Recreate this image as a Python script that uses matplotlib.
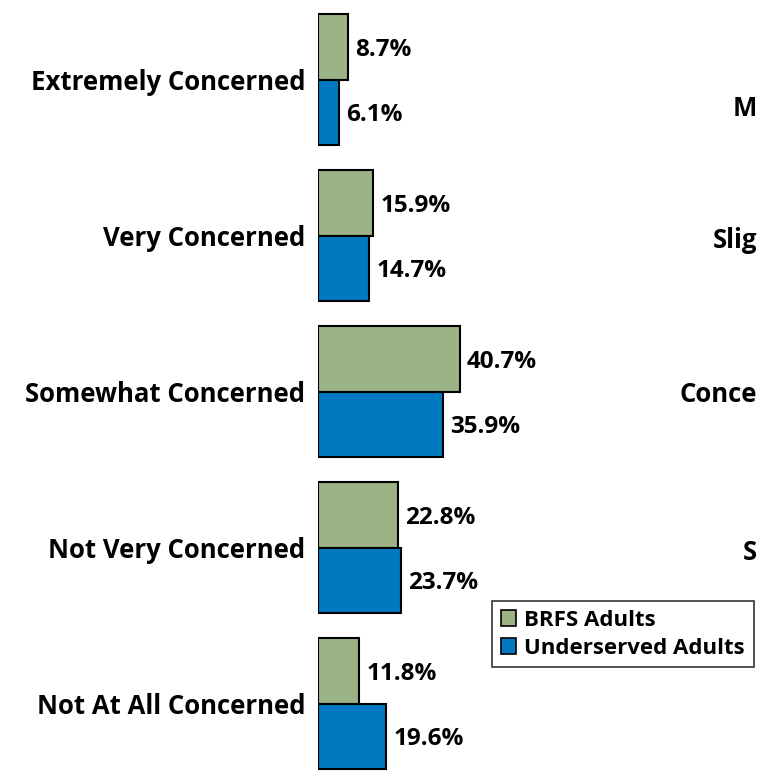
import matplotlib
matplotlib.use("Agg")
import matplotlib.pyplot as plt
from matplotlib.patches import Patch
import numpy as np

categories = ["Extremely Concerned", "Very Concerned", "Somewhat Concerned",
              "Not Very Concerned", "Not At All Concerned"]
brfs = [8.7, 15.9, 40.7, 22.8, 11.8]
underserved = [6.1, 14.7, 35.9, 23.7, 19.6]
series_names = ["BRFS Adults", "Underserved Adults"]
cut_labels = ["M", "Slig", "Conce", "S"]

green = "#9BB385"
blue = "#0079C1"
FONT = "Open Sans"

W, H = 759, 778
fig = plt.figure(figsize=(W / 100, H / 100), dpi=100)
ax_left = 318 / W
ax = fig.add_axes([ax_left, 0, 1 - ax_left, 1])
px_per_unit = 3.49
ax.set_xlim(0, (W - 318) / px_per_unit)
ax.set_ylim((H - 79.5) / 156, -79.5 / 156)
ax.axis("off")

y = np.arange(len(categories))
h = 0.42
ax.barh(y - h / 2, brfs, height=h, color=green, edgecolor="black", linewidth=1.5)
ax.barh(y + h / 2, underserved, height=h, color=blue, edgecolor="black", linewidth=1.5)

fs_cat = 18.5
fs_val = 17.5
dy = 0.018
for i in range(len(categories)):
    ax.text(brfs[i] + 2.0, y[i] - h / 2 + dy, f"{brfs[i]:.1f}%", va="center", ha="left",
            fontsize=fs_val, fontweight="bold", family=FONT)
    ax.text(underserved[i] + 2.0, y[i] + h / 2 + dy, f"{underserved[i]:.1f}%", va="center", ha="left",
            fontsize=fs_val, fontweight="bold", family=FONT)
    ax.text(-3.6, y[i] + dy, categories[i], va="center", ha="right", fontsize=fs_cat,
            fontweight="bold", family=FONT, clip_on=False)

# partially visible labels of a neighbouring chart at the right edge
cut_y = [108, 240, 395, 552]
for t, yy in zip(cut_labels, cut_y):
    fig.text(757 / W, 1 - yy / H, t, ha="right", va="center", fontsize=fs_cat,
             fontweight="bold", family=FONT)

handles = [Patch(facecolor=green, edgecolor="black", linewidth=1.2),
           Patch(facecolor=blue, edgecolor="black", linewidth=1.2)]
leg = fig.legend(handles, series_names, loc="upper left",
                 bbox_to_anchor=(492 / W, 1 - 601 / H),
                 prop={"family": FONT, "weight": "bold", "size": 16},
                 frameon=True, fancybox=False, edgecolor="black",
                 handlelength=0.7, handleheight=0.7, handletextpad=0.35,
                 borderpad=0.4, labelspacing=0.3, borderaxespad=0)
leg.get_frame().set_linewidth(1.2)

fig.savefig("out.png", dpi=100)
